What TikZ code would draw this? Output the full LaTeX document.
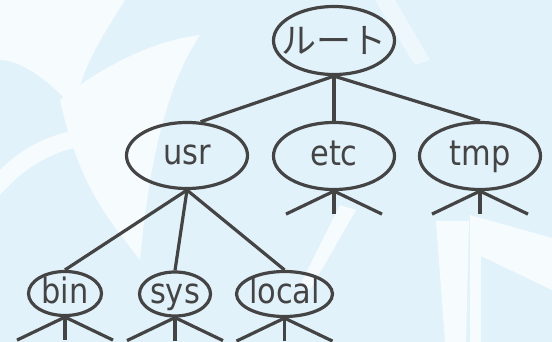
\documentclass[tikz,border=0pt]{standalone}
\usepackage{fontspec}
\setmainfont[FakeStretch=0.87]{DejaVu Sans}
\newfontfamily\jpfont{Noto Sans CJK JP}
\usetikzlibrary{shapes.geometric}
\definecolor{bgblue}{HTML}{E2F2FB}
\definecolor{swoosh}{HTML}{F6FBFE}
\definecolor{ink}{HTML}{444444}
\begin{document}
\begin{tikzpicture}[x=1pt,y=-1pt,
  ell/.style={draw=ink, line width=3.2pt, ellipse, inner sep=0pt},
  lbl/.style={text=ink, font=\fontsize{35}{35}\selectfont, inner sep=0pt, text height=19pt, text depth=0pt},
  jlbl/.style={text=ink, font=\jpfont\fontsize{35}{35}\selectfont, inner sep=0pt, text height=26.6pt, text depth=0pt},
  edge/.style={draw=ink, line width=3.2pt},
  sw/.style={fill=swoosh, draw=none}]
\fill[bgblue] (0,0) rectangle (552,342);
% background swooshes
\fill[sw] (0,0) -- (125,0) .. controls (100,40) and (80,70) .. (75,110) .. controls (50,80) and (20,60) .. (0,60) -- cycle;
\fill[sw] (60,100) .. controls (110,60) and (160,40) .. (200,35) .. controls (170,80) and (150,150) .. (140,260) .. controls (110,220) and (80,190) .. (60,100) -- cycle;
\fill[sw] (0,170) .. controls (30,140) and (70,125) .. (110,130) -- (110,145) .. controls (70,142) and (30,160) .. (0,195) -- cycle;
\fill[sw] (436,221) -- (469,221) -- (466,342) -- (445,342) -- cycle;
\fill[sw] (470,215) -- (552,238) -- (552,290) -- (481,256) -- (481,342) -- (470,342) -- cycle;
\fill[sw] (340,205) -- (356,210) -- (310,290) -- (300,285) -- cycle;
\fill[sw, opacity=0.6] (375,0) -- (395,0) -- (430,60) -- (415,65) -- cycle;
\useasboundingbox (0,0) rectangle (552,342);
% nodes
\node[ell, minimum width=121pt, minimum height=68pt] (root) at (334,40.5) {};
\node[jlbl] (roott) at (root) {ルート};
\node[ell, minimum width=121pt, minimum height=66pt] (usr) at (187,155.5) {};
\node[lbl] (usrt) at (usr) {usr};
\node[ell, minimum width=121pt, minimum height=67pt] (etc) at (334,156) {};
\node[lbl] (etct) at (etc) {etc};
\node[ell, minimum width=121pt, minimum height=67pt] (tmp) at (480,156) {};
\node[lbl] (tmpt) at (tmp) {tmp};
\node[ell, minimum width=73pt, minimum height=44pt] (bin) at (65,293.5) {};
\node[lbl] (bint) at (bin) {bin};
\node[ell, minimum width=71pt, minimum height=44pt] (sys) at (175,294) {};
\node[lbl] (syst) at (sys) {sys};
\node[ell, minimum width=96pt, minimum height=45pt] (local) at (284.5,294) {};
\node[lbl] (localt) at (local) {local};
% connectors
\draw[edge] (root.south) -- (usr.68);
\draw[edge] (root.south) -- (etc.north);
\draw[edge] (root.south) -- (tmp.north);
\draw[edge] (usr.south) -- (bin.north);
\draw[edge] (usr.south) -- (sys.north);
\draw[edge] (usr.south) -- (local.north);
\foreach \n in {etc,tmp,bin,sys,local}{
  \path (\n.south) ++(-48,23) coordinate (\n-a);
  \path (\n.south) ++(0,23) coordinate (\n-b);
  \path (\n.south) ++(48,23) coordinate (\n-c);
  \draw[edge] (\n-a) -- (\n.south) -- (\n-c);
  \draw[edge] (\n.south) -- (\n-b);
}
\end{tikzpicture}
\end{document}
